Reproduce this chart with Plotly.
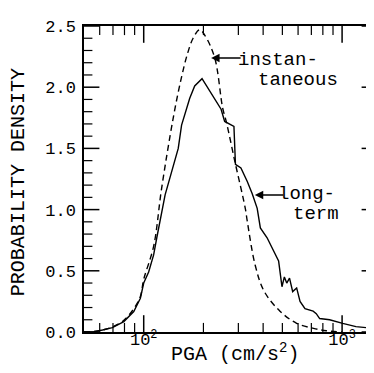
import plotly.graph_objects as go

# long-term (solid) curve
pga_long = [50, 56, 62, 69.5, 79.4, 89.1, 96.2, 100, 105.9, 112.2, 116.4, 128.2, 149.3,
            155.2, 170.6, 180.7, 196.8, 218.8, 245.5, 255.9, 275.4, 285, 290, 309, 332.7,
            352.4, 373.3, 387.3, 418.8, 451.9, 478.6, 497.7, 511.7, 526, 543.3, 563.6,
            590.2, 613.8, 650.1, 714.5, 741, 770.9, 865, 1007, 1175, 1422, 1500]
dens_long = [0.0, 0.003, 0.016, 0.036, 0.085, 0.167, 0.276, 0.40, 0.49, 0.63, 0.77, 1.12, 1.50,
             1.69, 1.91, 2.01, 2.07, 1.95, 1.82, 1.72, 1.69, 1.68, 1.37, 1.34, 1.23,
             1.13, 1.01, 0.85, 0.77, 0.66, 0.58, 0.37, 0.45, 0.40, 0.44, 0.33,
             0.36, 0.25, 0.19, 0.17, 0.15, 0.11, 0.10, 0.07, 0.044, 0.03, 0.02]

# instantaneous (dashed) curve
pga_inst = [50, 56, 62, 69.2, 79.4, 89.1, 96.2, 100, 112.2, 123, 140.9, 154.5, 166,
            177.4, 191.4, 204, 228, 250, 260.6, 288.4, 325.1, 332.7, 364.8, 404.6,
            486.4, 590.2, 717.8, 831.8, 1000]
dens_inst = [0.0, 0.004, 0.016, 0.04, 0.095, 0.19, 0.29, 0.43, 0.70, 1.17, 1.75, 2.07, 2.27,
             2.40, 2.47, 2.42, 2.24, 1.83, 1.72, 1.39, 1.01, 0.905, 0.545, 0.333,
             0.17, 0.071, 0.03, 0.01, 0.0]

x_major = [100, 1000]
x_major_text = ["10<sup>2</sup>", "10<sup>3</sup>"]
x_minor = [60, 70, 80, 90, 200, 300, 400, 500, 600, 700, 800, 900]
y_major = [0.0, 0.5, 1.0, 1.5, 2.0, 2.5]
y_major_text = ["0.0", "0.5", "1.0", "1.5", "2.0", "2.5"]
y_minor = [0.1, 0.2, 0.3, 0.4, 0.6, 0.7, 0.8, 0.9, 1.1, 1.2, 1.3, 1.4,
           1.6, 1.7, 1.8, 1.9, 2.1, 2.2, 2.3, 2.4]

FONT = "Liberation Mono"
X_RANGE = [1.699, 3.176]
Y_RANGE = [0, 2.5]
X_LO, X_HI = 10 ** X_RANGE[0], 10 ** X_RANGE[1]

fig = go.Figure()
fig.add_trace(go.Scatter(x=pga_long, y=dens_long, mode="lines",
                         line=dict(color="black", width=1.4), showlegend=False))
fig.add_trace(go.Scatter(x=pga_inst, y=dens_inst, mode="lines", line_shape="spline",
                         line=dict(color="black", width=1.4, dash="6px,4px"), showlegend=False))


# inward tick marks on all four sides (half of each centred mark is clipped by the frame)
def tick_trace(xs, ys, symbol, size, width):
    return go.Scatter(x=xs, y=ys, mode="markers", cliponaxis=True, hoverinfo="skip",
                      showlegend=False,
                      marker=dict(symbol=symbol, size=size, color="black",
                                  line=dict(color="black", width=width)))


for xv in (X_LO, X_HI):
    fig.add_trace(tick_trace([xv] * len(y_major), y_major, "line-ew", 22, 1.5))
    fig.add_trace(tick_trace([xv] * len(y_minor), y_minor, "line-ew", 12, 1.2))
for yv in Y_RANGE:
    fig.add_trace(tick_trace(x_major, [yv] * len(x_major), "line-ns", 24, 1.5))
    fig.add_trace(tick_trace(x_minor, [yv] * len(x_minor), "line-ns", 13, 1.2))

tfont = dict(family=FONT, size=17, color="black")
fig.update_xaxes(type="log", range=X_RANGE, tickmode="array",
                 tickvals=x_major, ticktext=x_major_text, ticks="",
                 showline=True, linecolor="black", linewidth=1.5, mirror=True,
                 showgrid=False, zeroline=False, ticklabelstandoff=-9, tickfont=tfont)
fig.update_yaxes(range=Y_RANGE, tickmode="array", tickvals=y_major, ticktext=y_major_text,
                 ticks="", showline=True, linecolor="black", linewidth=1.5, mirror=True,
                 showgrid=False, zeroline=False, ticklabelstandoff=3, tickfont=tfont)

afont = dict(family=FONT, size=19, color="black")
annotations = [
    dict(xref="paper", yref="paper", x=0.515, y=-0.068, text="PGA (cm/s<sup>2</sup>)",
         showarrow=False, xanchor="center", yanchor="middle",
         font=dict(family=FONT, size=20, color="black")),
    dict(xref="paper", yref="paper", x=-0.225, y=0.49, text="PROBABILITY DENSITY",
         showarrow=False, xanchor="center", yanchor="middle", textangle=-90,
         font=dict(family=FONT, size=20, color="black")),
    dict(xref="paper", yref="paper", x=(229 - 76) / 295, y=(324 - 52) / 306,
         text="instan-", showarrow=False, xanchor="left", yanchor="middle", font=afont),
    dict(xref="paper", yref="paper", x=(249 - 76) / 295, y=(324 - 72) / 306,
         text="taneous", showarrow=False, xanchor="left", yanchor="middle", font=afont),
    dict(xref="paper", yref="paper", x=(204 - 76) / 295, y=(324 - 50) / 306,
         ax=31, ay=0, text="", showarrow=True, arrowhead=2, arrowsize=1.2,
         arrowwidth=1.4, arrowcolor="black"),
    dict(xref="paper", yref="paper", x=(269 - 76) / 295, y=(324 - 186) / 306,
         text="long-", showarrow=False, xanchor="left", yanchor="middle", font=afont),
    dict(xref="paper", yref="paper", x=(284 - 76) / 295, y=(324 - 206) / 306,
         text="term", showarrow=False, xanchor="left", yanchor="middle", font=afont),
    dict(xref="paper", yref="paper", x=(248 - 76) / 295, y=(324 - 187) / 306,
         ax=30, ay=0, text="", showarrow=True, arrowhead=2, arrowsize=1.2,
         arrowwidth=1.4, arrowcolor="black"),
]

fig.update_layout(width=374, height=373, margin=dict(l=76, r=3, t=18, b=49),
                  paper_bgcolor="white", plot_bgcolor="white",
                  annotations=annotations, showlegend=False)

fig.write_html("out.html")
